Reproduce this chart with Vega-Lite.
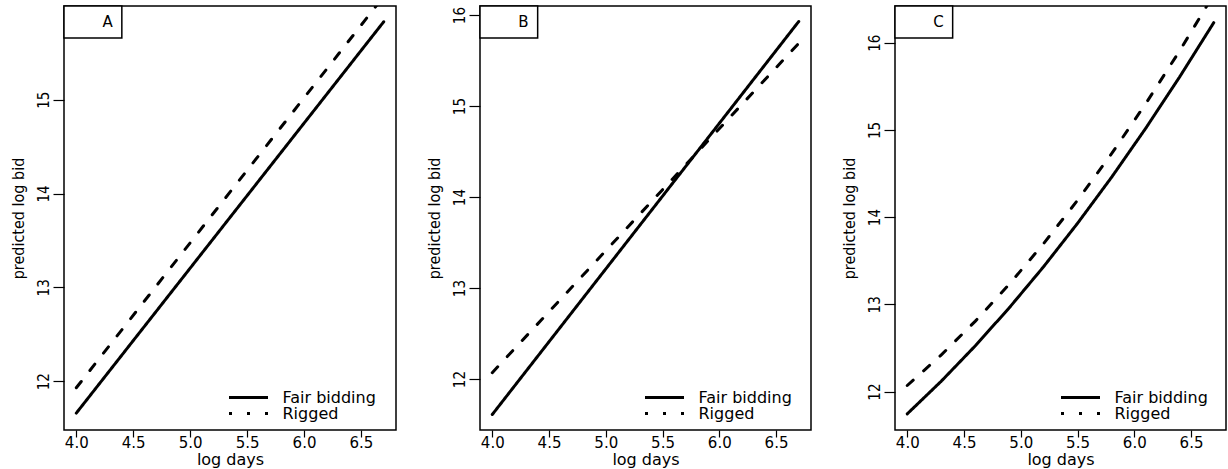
{
  "$schema": "https://vega.github.io/schema/vega-lite/v6.json",
  "padding": {"left": 9, "top": 4, "right": 0, "bottom": 0},
  "spacing": 28,
  "background": "white",
  "datasets": {
    "curves": [
      {"panel": "A", "series": "Fair bidding", "x": 4.0, "y": 11.66},
      {"panel": "A", "series": "Fair bidding", "x": 6.7, "y": 15.83},
      {"panel": "A", "series": "Rigged", "x": 4.0, "y": 11.93},
      {"panel": "A", "series": "Rigged", "x": 6.7, "y": 16.10},
      {"panel": "B", "series": "Fair bidding", "x": 4.0, "y": 11.61},
      {"panel": "B", "series": "Fair bidding", "x": 6.7, "y": 15.93},
      {"panel": "B", "series": "Rigged", "x": 4.0, "y": 12.07},
      {"panel": "B", "series": "Rigged", "x": 6.7, "y": 15.69},
      {"panel": "C", "series": "Fair bidding", "x": 4.0, "y": 11.745},
      {"panel": "C", "series": "Fair bidding", "x": 4.3, "y": 12.120},
      {"panel": "C", "series": "Fair bidding", "x": 4.6, "y": 12.526},
      {"panel": "C", "series": "Fair bidding", "x": 4.9, "y": 12.963},
      {"panel": "C", "series": "Fair bidding", "x": 5.2, "y": 13.430},
      {"panel": "C", "series": "Fair bidding", "x": 5.5, "y": 13.929},
      {"panel": "C", "series": "Fair bidding", "x": 5.8, "y": 14.457},
      {"panel": "C", "series": "Fair bidding", "x": 6.1, "y": 15.017},
      {"panel": "C", "series": "Fair bidding", "x": 6.4, "y": 15.608},
      {"panel": "C", "series": "Fair bidding", "x": 6.7, "y": 16.229},
      {"panel": "C", "series": "Rigged", "x": 4.0, "y": 12.070},
      {"panel": "C", "series": "Rigged", "x": 4.3, "y": 12.421},
      {"panel": "C", "series": "Rigged", "x": 4.6, "y": 12.808},
      {"panel": "C", "series": "Rigged", "x": 4.9, "y": 13.233},
      {"panel": "C", "series": "Rigged", "x": 5.2, "y": 13.695},
      {"panel": "C", "series": "Rigged", "x": 5.5, "y": 14.193},
      {"panel": "C", "series": "Rigged", "x": 5.8, "y": 14.727},
      {"panel": "C", "series": "Rigged", "x": 6.1, "y": 15.299},
      {"panel": "C", "series": "Rigged", "x": 6.4, "y": 15.907},
      {"panel": "C", "series": "Rigged", "x": 6.7, "y": 16.551}
    ],
    "boxes": [
      {"panel": "A", "label": "A", "x1": 3.892, "x2": 4.40, "y1": 15.998, "y2": 15.657, "ym": 15.827},
      {"panel": "B", "label": "B", "x1": 3.892, "x2": 4.40, "y1": 16.10, "y2": 15.748, "ym": 15.924},
      {"panel": "C", "label": "C", "x1": 3.892, "x2": 4.40, "y1": 16.42, "y2": 16.053, "ym": 16.237}
    ]
  },
  "config": {
    "view": {"stroke": "black", "strokeWidth": 1.5},
    "axis": {
      "grid": false,
      "domain": false,
      "tickColor": "black",
      "tickWidth": 1.2,
      "labelColor": "black",
      "titleColor": "black",
      "titleFontWeight": "normal"
    },
    "axisX": {
      "labelFont": "DejaVu Sans",
      "labelFontSize": 15,
      "titleFont": "DejaVu Sans",
      "titleFontSize": 16,
      "tickSize": 7,
      "labelPadding": -2,
      "titlePadding": 1.5
    },
    "axisY": {
      "labelFont": "Liberation Sans Narrow, DejaVu Sans Condensed, Liberation Sans",
      "labelFontSize": 15,
      "labelAngle": -90,
      "labelAlign": "center",
      "labelBaseline": "bottom",
      "tickSize": 11,
      "labelPadding": 2,
      "format": "d",
      "titleFont": "Liberation Sans Narrow, DejaVu Sans Condensed, Liberation Sans",
      "titleFontSize": 16,
      "titleBaseline": "bottom",
      "minExtent": 36,
      "maxExtent": 36,
      "titlePadding": 2
    }
  },
  "resolve": {"scale": {"strokeDash": "independent"}, "legend": {"strokeDash": "independent"}},
  "hconcat": [
    {
      "width": 332,
      "height": 424,
      "resolve": {"scale": {"strokeDash": "independent"}, "legend": {"strokeDash": "independent"}},
      "layer": [
        {
          "data": {"name": "curves"},
          "transform": [{"filter": "datum.panel === 'A'"}],
          "mark": {"type": "line", "clip": true, "strokeWidth": 3, "strokeCap": "round", "color": "black"},
          "encoding": {
            "x": {"field": "x", "type": "quantitative", "scale": {"domain": [3.892, 6.808], "nice": false, "zero": false}, "axis": {"values": [4, 4.5, 5, 5.5, 6, 6.5], "format": ".1f", "title": "log days"}},
            "y": {"field": "y", "type": "quantitative", "scale": {"domain": [11.48, 15.998], "nice": false, "zero": false}, "axis": {"values": [12, 13, 14, 15], "title": "predicted log bid"}},
            "strokeDash": {"field": "series", "type": "nominal", "scale": {"domain": ["Fair bidding", "Rigged"], "range": [[1, 0], [8, 14]]}, "legend": null}
          }
        },
        {
          "data": {"name": "curves"},
          "transform": [{"filter": "datum.panel === 'A'"}],
          "mark": {"type": "line", "clip": true, "strokeWidth": 3, "color": "black", "opacity": 0},
          "encoding": {
            "x": {"field": "x", "type": "quantitative"},
            "y": {"field": "y", "type": "quantitative"},
            "strokeDash": {
              "field": "series", "type": "nominal",
              "scale": {"domain": ["Fair bidding", "Rigged"], "range": [[1, 0], [3, 15]]},
              "legend": {
                "title": null, "orient": "none", "legendX": 163.5, "legendY": 384,
                "symbolType": "stroke", "symbolSize": 1521, "symbolStrokeWidth": 3, "symbolStrokeColor": "black", "symbolOpacity": 1,
                "labelFont": "DejaVu Sans", "labelFontSize": 16, "labelColor": "black", "labelOffset": 13,
                "clipHeight": 15, "rowPadding": -2, "padding": 0
              }
            }
          }
        },
        {
          "data": {"name": "boxes"},
          "transform": [{"filter": "datum.panel === 'A'"}],
          "mark": {"type": "rect", "fill": "white", "stroke": "black", "strokeWidth": 1.5},
          "encoding": {
            "x": {"field": "x1", "type": "quantitative"},
            "x2": {"field": "x2"},
            "y": {"field": "y1", "type": "quantitative"},
            "y2": {"field": "y2"}
          }
        },
        {
          "data": {"name": "boxes"},
          "transform": [{"filter": "datum.panel === 'A'"}],
          "mark": {"type": "text", "align": "right", "baseline": "middle", "dx": -9, "font": "DejaVu Sans", "fontSize": 15, "color": "black"},
          "encoding": {
            "x": {"field": "x2", "type": "quantitative"},
            "y": {"field": "ym", "type": "quantitative"},
            "text": {"field": "label"}
          }
        }
      ]
    },
    {
      "width": 331,
      "height": 424,
      "resolve": {"scale": {"strokeDash": "independent"}, "legend": {"strokeDash": "independent"}},
      "layer": [
        {
          "data": {"name": "curves"},
          "transform": [{"filter": "datum.panel === 'B'"}],
          "mark": {"type": "line", "clip": true, "strokeWidth": 3, "strokeCap": "round", "color": "black"},
          "encoding": {
            "x": {"field": "x", "type": "quantitative", "scale": {"domain": [3.892, 6.808], "nice": false, "zero": false}, "axis": {"values": [4, 4.5, 5, 5.5, 6, 6.5], "format": ".1f", "title": "log days"}},
            "y": {"field": "y", "type": "quantitative", "scale": {"domain": [11.44, 16.10], "nice": false, "zero": false}, "axis": {"values": [12, 13, 14, 15, 16], "title": "predicted log bid"}},
            "strokeDash": {"field": "series", "type": "nominal", "scale": {"domain": ["Fair bidding", "Rigged"], "range": [[1, 0], [8, 14]]}, "legend": null}
          }
        },
        {
          "data": {"name": "curves"},
          "transform": [{"filter": "datum.panel === 'B'"}],
          "mark": {"type": "line", "clip": true, "strokeWidth": 3, "color": "black", "opacity": 0},
          "encoding": {
            "x": {"field": "x", "type": "quantitative"},
            "y": {"field": "y", "type": "quantitative"},
            "strokeDash": {
              "field": "series", "type": "nominal",
              "scale": {"domain": ["Fair bidding", "Rigged"], "range": [[1, 0], [3, 15]]},
              "legend": {
                "title": null, "orient": "none", "legendX": 163.5, "legendY": 384,
                "symbolType": "stroke", "symbolSize": 1521, "symbolStrokeWidth": 3, "symbolStrokeColor": "black", "symbolOpacity": 1,
                "labelFont": "DejaVu Sans", "labelFontSize": 16, "labelColor": "black", "labelOffset": 13,
                "clipHeight": 15, "rowPadding": -2, "padding": 0
              }
            }
          }
        },
        {
          "data": {"name": "boxes"},
          "transform": [{"filter": "datum.panel === 'B'"}],
          "mark": {"type": "rect", "fill": "white", "stroke": "black", "strokeWidth": 1.5},
          "encoding": {
            "x": {"field": "x1", "type": "quantitative"},
            "x2": {"field": "x2"},
            "y": {"field": "y1", "type": "quantitative"},
            "y2": {"field": "y2"}
          }
        },
        {
          "data": {"name": "boxes"},
          "transform": [{"filter": "datum.panel === 'B'"}],
          "mark": {"type": "text", "align": "right", "baseline": "middle", "dx": -9, "font": "DejaVu Sans", "fontSize": 15, "color": "black"},
          "encoding": {
            "x": {"field": "x2", "type": "quantitative"},
            "y": {"field": "ym", "type": "quantitative"},
            "text": {"field": "label"}
          }
        }
      ]
    },
    {
      "width": 331,
      "height": 424,
      "resolve": {"scale": {"strokeDash": "independent"}, "legend": {"strokeDash": "independent"}},
      "layer": [
        {
          "data": {"name": "curves"},
          "transform": [{"filter": "datum.panel === 'C'"}],
          "mark": {"type": "line", "clip": true, "strokeWidth": 3, "strokeCap": "round", "color": "black"},
          "encoding": {
            "x": {"field": "x", "type": "quantitative", "scale": {"domain": [3.892, 6.808], "nice": false, "zero": false}, "axis": {"values": [4, 4.5, 5, 5.5, 6, 6.5], "format": ".1f", "title": "log days"}},
            "y": {"field": "y", "type": "quantitative", "scale": {"domain": [11.56, 16.42], "nice": false, "zero": false}, "axis": {"values": [12, 13, 14, 15, 16], "title": "predicted log bid"}},
            "strokeDash": {"field": "series", "type": "nominal", "scale": {"domain": ["Fair bidding", "Rigged"], "range": [[1, 0], [8, 14]]}, "legend": null}
          }
        },
        {
          "data": {"name": "curves"},
          "transform": [{"filter": "datum.panel === 'C'"}],
          "mark": {"type": "line", "clip": true, "strokeWidth": 3, "color": "black", "opacity": 0},
          "encoding": {
            "x": {"field": "x", "type": "quantitative"},
            "y": {"field": "y", "type": "quantitative"},
            "strokeDash": {
              "field": "series", "type": "nominal",
              "scale": {"domain": ["Fair bidding", "Rigged"], "range": [[1, 0], [3, 15]]},
              "legend": {
                "title": null, "orient": "none", "legendX": 164.5, "legendY": 384,
                "symbolType": "stroke", "symbolSize": 1521, "symbolStrokeWidth": 3, "symbolStrokeColor": "black", "symbolOpacity": 1,
                "labelFont": "DejaVu Sans", "labelFontSize": 16, "labelColor": "black", "labelOffset": 13,
                "clipHeight": 15, "rowPadding": -2, "padding": 0
              }
            }
          }
        },
        {
          "data": {"name": "boxes"},
          "transform": [{"filter": "datum.panel === 'C'"}],
          "mark": {"type": "rect", "fill": "white", "stroke": "black", "strokeWidth": 1.5},
          "encoding": {
            "x": {"field": "x1", "type": "quantitative"},
            "x2": {"field": "x2"},
            "y": {"field": "y1", "type": "quantitative"},
            "y2": {"field": "y2"}
          }
        },
        {
          "data": {"name": "boxes"},
          "transform": [{"filter": "datum.panel === 'C'"}],
          "mark": {"type": "text", "align": "right", "baseline": "middle", "dx": -9, "font": "DejaVu Sans", "fontSize": 15, "color": "black"},
          "encoding": {
            "x": {"field": "x2", "type": "quantitative"},
            "y": {"field": "ym", "type": "quantitative"},
            "text": {"field": "label"}
          }
        }
      ]
    }
  ]
}
